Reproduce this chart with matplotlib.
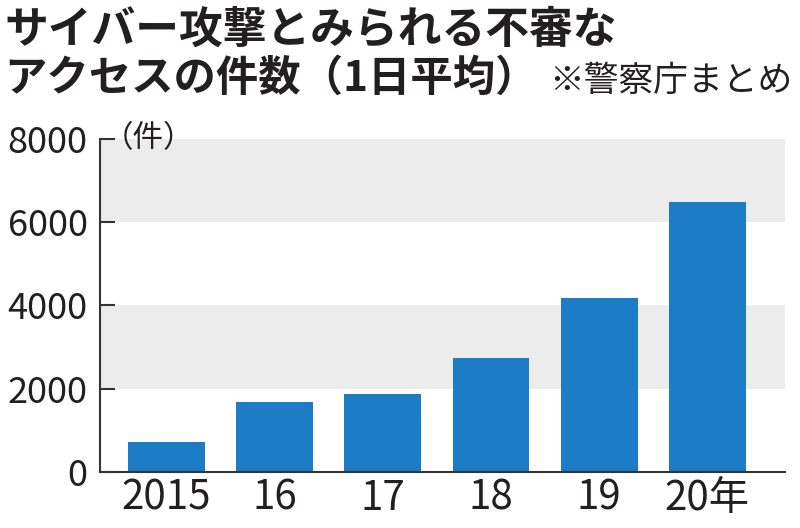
import matplotlib.pyplot as plt

plt.rcParams['font.family'] = ['Noto Sans CJK JP', 'DejaVu Sans']

years = ["2015", "16", "17", "18", "19", "20年"]
counts = [720, 1690, 1880, 2740, 4180, 6490]
yticks = [0, 2000, 4000, 6000, 8000]
bands = [(2000, 4000), (6000, 8000)]

title1 = "サイバー攻撃とみられる不審な"
title2 = "アクセスの件数（1日平均）"
source = "※警察庁まとめ"
unit = "（件）"

bar_color = "#1c7cc5"
ink = "#231f20"

fig = plt.figure(figsize=(8, 5.28), dpi=100)
ax = fig.add_axes([0.125, 0.106, 0.856, 0.631])

for lo, hi in bands:
    ax.axhspan(lo, hi, color="#ececec", zorder=0, lw=0)

x = range(len(years))
ax.bar(x, counts, width=0.71, color=bar_color, zorder=2)

ax.set_xlim(-0.615, 5.716)
ax.set_ylim(0, 8000)
ax.set_yticks(yticks)
ax.set_yticklabels([str(v) for v in yticks], fontsize=26, color=ink)
ax.set_xticks(list(x))
ax.set_xticklabels(years, fontsize=29, color=ink)
ax.tick_params(axis='y', direction='in', length=11, width=1.5, color="#333333", pad=9)
ax.tick_params(axis='x', length=0, pad=4)

for s in ['top', 'right']:
    ax.spines[s].set_visible(False)
for s in ['left', 'bottom']:
    ax.spines[s].set_color("#333333")
    ax.spines[s].set_linewidth(1.5)

ax.text(-0.585, 8000, unit, fontsize=22, color=ink, va='center', ha='left')

fig.text(0.005, 0.985, title1, fontsize=31.5, fontweight='bold', color=ink, va='top', ha='left')
fig.text(0.005, 0.89, title2, fontsize=30.5, fontweight='bold', color=ink, va='top', ha='left')
fig.text(0.99, 0.878, source, fontsize=25, color=ink, va='top', ha='right')

fig.savefig("out.png", dpi=100)
